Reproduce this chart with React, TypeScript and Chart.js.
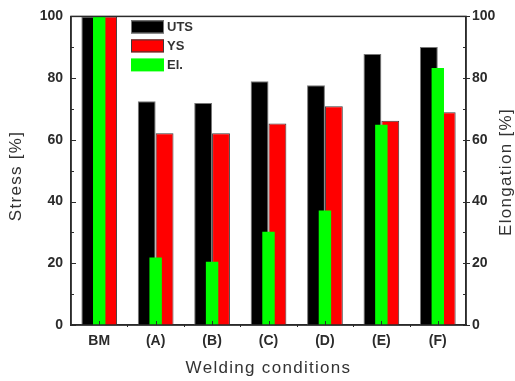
import React, { useEffect, useRef } from "react";
import { Chart, registerables } from "chart.js";

Chart.register(...registerables);

const categories = ["BM", "(A)", "(B)", "(C)", "(D)", "(E)", "(F)"];
const utsValues = [100, 72.5, 71.9, 79.0, 77.7, 87.8, 90.1];
const ysValues = [100, 62.1, 62.1, 65.3, 70.9, 66.2, 68.9];
const elValues = [100, 21.9, 20.5, 30.2, 37.1, 64.9, 83.3];
const yTicks = [0, 20, 40, 60, 80, 100];
const seriesNames = ["UTS", "YS", "El."];
const seriesColors = ["#000000", "#ff0000", "#00ff00"];
const seriesBorders = ["#777777", "#3a3a3a", "#00ff00"];

const AXIS = "#2b2b2b";
const TICK_FONT = { family: "Arial, 'Liberation Sans', sans-serif", size: 14, weight: "bold" as const };

const decorPlugin = {
  id: "decor",
  afterDraw(chart: any) {
    const ctx = chart.ctx as CanvasRenderingContext2D;
    const { left, right, top, bottom } = chart.chartArea;
    const y = chart.scales.y;
    const x = chart.scales.x;
    ctx.save();
    ctx.strokeStyle = AXIS;
    ctx.lineWidth = 1.5;
    ctx.strokeRect(left, top, right - left, bottom - top);
    ctx.lineWidth = 1;
    for (let v = 0; v <= 100; v += 10) {
      const py = Math.round(y.getPixelForValue(v)) + 0.5;
      const major = v % 20 === 0;
      const len = major ? 5 : 3;
      ctx.beginPath();
      ctx.moveTo(left, py);
      ctx.lineTo(left + len, py);
      ctx.moveTo(right, py);
      ctx.lineTo(right - 3, py);
      if (major) {
        ctx.moveTo(right, py);
        ctx.lineTo(right + 4, py);
      }
      ctx.stroke();
    }
    for (let i = 0; i < categories.length; i++) {
      const px = Math.round(x.getPixelForValue(i)) + 0.5;
      ctx.beginPath();
      ctx.moveTo(px, bottom);
      ctx.lineTo(px, bottom - 4);
      ctx.stroke();
      if (i < categories.length - 1) {
        const mx = Math.round((x.getPixelForValue(i) + x.getPixelForValue(i + 1)) / 2) + 0.5;
        ctx.beginPath();
        ctx.moveTo(mx, bottom);
        ctx.lineTo(mx, bottom + 2);
        ctx.stroke();
      }
    }
    ctx.fillStyle = "#333333";
    ctx.font = "17px Arial, 'Liberation Sans', sans-serif";
    (ctx as any).letterSpacing = "1.3px";
    ctx.textAlign = "center";
    ctx.textBaseline = "middle";
    ctx.fillText("Welding conditions", (left + right) / 2, 368);
    ctx.save();
    ctx.translate(16, 176);
    ctx.rotate(-Math.PI / 2);
    ctx.fillText("Stress [%]", 0, 0);
    ctx.restore();
    ctx.save();
    ctx.translate(506, 172);
    ctx.rotate(-Math.PI / 2);
    ctx.fillText("Elongation [%]", 0, 0);
    ctx.restore();
    (ctx as any).letterSpacing = "0px";
    ctx.font = "bold 13px Arial, 'Liberation Sans', sans-serif";
    ctx.textAlign = "left";
    const lx = left + 60;
    let ly = top + 4;
    for (let i = 0; i < seriesNames.length; i++) {
      ctx.fillStyle = seriesColors[i];
      ctx.fillRect(lx, ly, 33, 13);
      if (i < 2) {
        ctx.strokeStyle = seriesBorders[i];
        ctx.lineWidth = 1;
        ctx.strokeRect(lx + 0.5, ly + 0.5, 32, 12);
      }
      ctx.fillStyle = "#333333";
      ctx.fillText(seriesNames[i], lx + 36, ly + 7);
      ly += 19;
    }
    ctx.restore();
  },
};

export default function App() {
  const ref = useRef<HTMLCanvasElement | null>(null);
  useEffect(() => {
    if (!ref.current) return;
    const chart = new Chart(ref.current, {
      type: "bar",
      data: {
        labels: categories,
        datasets: [
          {
            label: seriesNames[0],
            data: utsValues,
            backgroundColor: seriesColors[0],
            borderColor: seriesBorders[0],
            borderWidth: 1,
            yAxisID: "y",
            categoryPercentage: 0.633,
            barPercentage: 1,
            order: 1,
          },
          {
            label: seriesNames[1],
            data: ysValues,
            backgroundColor: seriesColors[1],
            borderColor: seriesBorders[1],
            borderWidth: 1,
            yAxisID: "y",
            categoryPercentage: 0.633,
            barPercentage: 1,
            order: 1,
          },
          {
            label: seriesNames[2],
            data: elValues,
            backgroundColor: seriesColors[2],
            borderWidth: 0,
            yAxisID: "y2",
            grouped: false,
            categoryPercentage: 1,
            barPercentage: 0.22,
            order: 0,
          },
        ] as any,
      },
      options: {
        animation: false,
        responsive: false,
        devicePixelRatio: 1,
        layout: { padding: { top: 15, left: 0, right: 0, bottom: 0 } },
        plugins: { legend: { display: false }, tooltip: { enabled: false }, title: { display: false } },
        scales: {
          x: {
            type: "category",
            offset: true,
            grid: { display: false, drawTicks: false },
            border: { display: true, color: AXIS, width: 1.5 },
            ticks: { color: AXIS, font: TICK_FONT, padding: 8, maxRotation: 0, autoSkip: false },
            afterFit: (s: any) => { s.height = 56; },
          },
          y: {
            position: "left",
            min: 0,
            max: 100,
            afterBuildTicks: (s: any) => { s.ticks = yTicks.map((v) => ({ value: v })); },
            grid: { display: false, drawTicks: false },
            border: { display: true, color: AXIS, width: 1.5 },
            ticks: { color: AXIS, font: TICK_FONT, padding: 8, autoSkip: false },
            afterFit: (s: any) => { s.width = 71; },
          },
          y2: {
            position: "right",
            min: 0,
            max: 100,
            afterBuildTicks: (s: any) => { s.ticks = yTicks.map((v) => ({ value: v })); },
            grid: { display: false, drawTicks: false },
            border: { display: true, color: AXIS, width: 1.5 },
            ticks: { color: AXIS, font: TICK_FONT, padding: 6, autoSkip: false },
            afterFit: (s: any) => { s.width = 49; },
          },
        },
      } as any,
      plugins: [decorPlugin],
    });
    return () => chart.destroy();
  }, []);
  return (
    <div style={{ position: "fixed", left: 0, top: 0, width: 515, height: 381, background: "#fff" }}>
      <canvas ref={ref} width={515} height={381} style={{ display: "block", width: 515, height: 381 }} />
    </div>
  );
}
